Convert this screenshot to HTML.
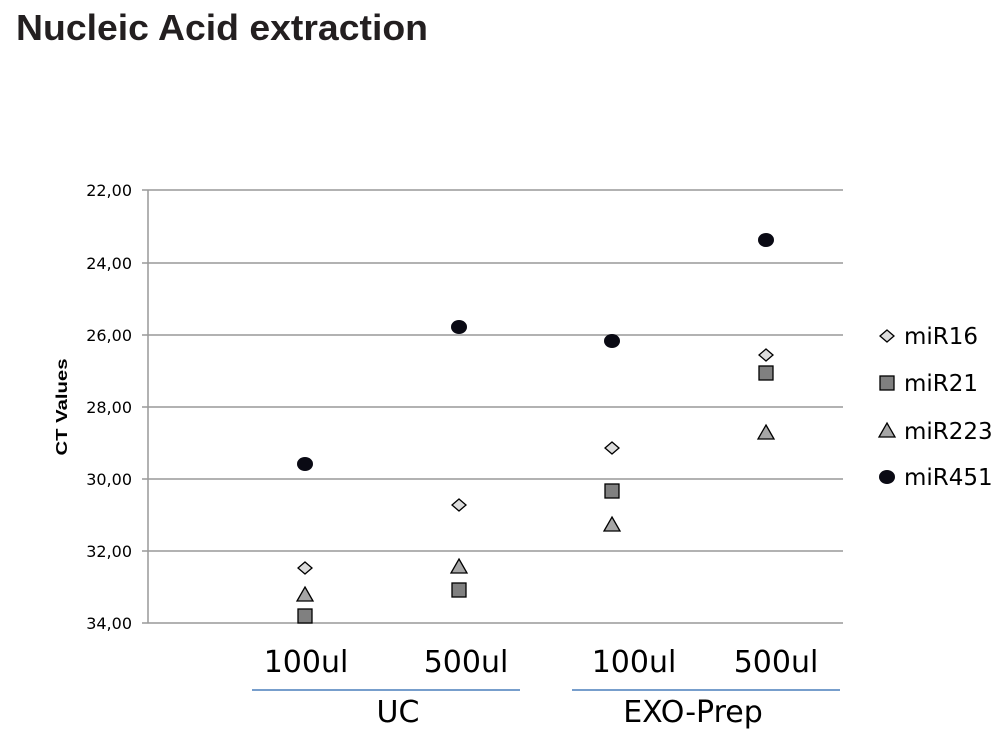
<!DOCTYPE html>
<html><head><style>
body{margin:0;background:#fff;width:1003px;height:729px;overflow:hidden}
</style></head><body>
<svg width="1003" height="729" xmlns="http://www.w3.org/2000/svg" font-family="DejaVu Sans, sans-serif">
<text x="16" y="40" font-size="36" font-weight="bold" fill="#231f20" font-family="Liberation Sans, sans-serif" textLength="412" lengthAdjust="spacingAndGlyphs">Nucleic Acid extraction</text>
<g stroke="#999" stroke-width="1.5">
<line x1="142" y1="190" x2="843" y2="190"/>
<line x1="142" y1="263" x2="843" y2="263"/>
<line x1="142" y1="335" x2="843" y2="335"/>
<line x1="142" y1="407" x2="843" y2="407"/>
<line x1="142" y1="479" x2="843" y2="479"/>
<line x1="142" y1="551" x2="843" y2="551"/>
<line x1="142" y1="623" x2="843" y2="623"/>
<line x1="148" y1="190" x2="148" y2="623"/>
</g>
<g font-size="16" text-anchor="end" fill="#000">
<text x="132" y="196">22,00</text>
<text x="132" y="269">24,00</text>
<text x="132" y="341">26,00</text>
<text x="132" y="413">28,00</text>
<text x="132" y="485">30,00</text>
<text x="132" y="557">32,00</text>
<text x="132" y="629">34,00</text>
</g>
<text transform="translate(67,407) rotate(-90)" font-size="16" font-weight="bold" text-anchor="middle" font-family="Liberation Sans, sans-serif" textLength="97" lengthAdjust="spacingAndGlyphs">CT Values</text>
<defs>
<g id="d"><polygon points="0,-6 7,0 0,6 -7,0" fill="#ddd" stroke="#000" stroke-width="1.3"/></g>
<g id="s"><rect x="-7" y="-7" width="14" height="14" fill="#808080" stroke="#000" stroke-width="1.3"/></g>
<g id="t"><polygon points="0,-8 8,6 -8,6" fill="#a6a6a6" stroke="#000" stroke-width="1.3"/></g>
<g id="c"><ellipse cx="0" cy="0" rx="8" ry="7" fill="#0a0a14"/></g>
</defs>
<use href="#c" x="305" y="464"/><use href="#d" x="305" y="568"/><use href="#t" x="305" y="595"/><use href="#s" x="305" y="616"/>
<use href="#c" x="459" y="327"/><use href="#d" x="459" y="505"/><use href="#t" x="459" y="567"/><use href="#s" x="459" y="590"/>
<use href="#c" x="612" y="341"/><use href="#d" x="612" y="448"/><use href="#s" x="612" y="491"/><use href="#t" x="612" y="525"/>
<use href="#c" x="766" y="240"/><use href="#d" x="766" y="355"/><use href="#s" x="766" y="373"/><use href="#t" x="766" y="433"/>
<use href="#d" x="887" y="336"/><use href="#s" x="887" y="383"/><use href="#t" x="887" y="431"/><use href="#c" x="887" y="477"/>
<g font-size="23" fill="#000">
<text x="904" y="344">miR16</text>
<text x="904" y="391">miR21</text>
<text x="904" y="439">miR223</text>
<text x="904" y="485">miR451</text>
</g>
<g font-size="30" text-anchor="middle" fill="#000">
<text x="306" y="672">100ul</text>
<text x="466" y="672">500ul</text>
<text x="634" y="672">100ul</text>
<text x="776" y="672">500ul</text>
<text x="398" y="722">UC</text>
<text x="693" y="722">EXO-Prep</text>
</g>
<g stroke="#4a7ebb" stroke-width="1.5">
<line x1="252" y1="690" x2="520" y2="690"/>
<line x1="572" y1="690" x2="840" y2="690"/>
</g>
</svg>
</body></html>
